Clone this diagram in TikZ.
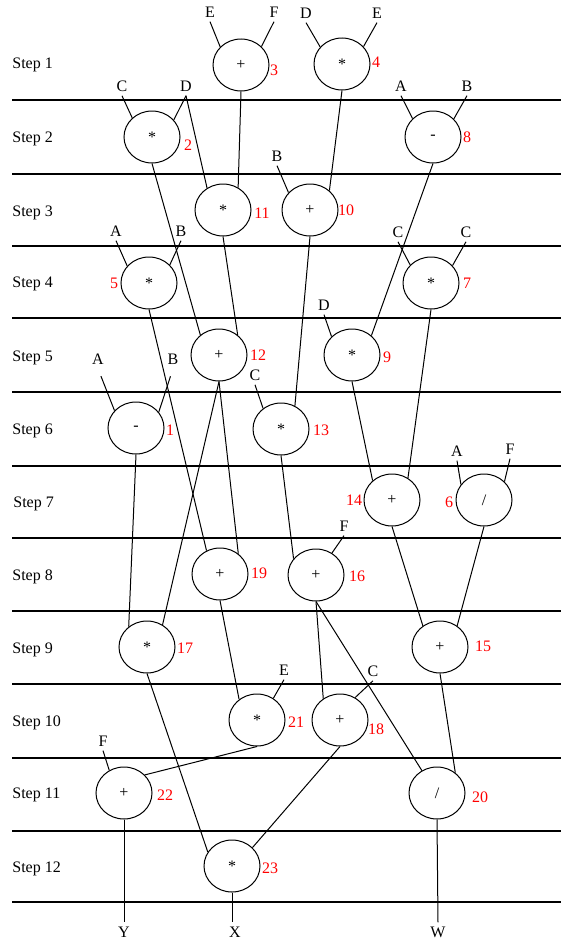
\documentclass[tikz,border=0pt]{standalone}
\usepackage{fontspec}
\setmainfont{Liberation Serif}
\usetikzlibrary{shapes.geometric}
\begin{document}
\begin{tikzpicture}[x=0.5pt,y=-0.5pt,
  every node/.style={font=\fontsize{8}{9.6}\selectfont},
  op/.style={draw, ellipse, minimum width=28pt, minimum height=26pt, inner sep=0pt, line width=0.5pt},
  num/.style={text=red, inner sep=0pt},
  inp/.style={inner sep=2pt},
  steplbl/.style={anchor=base west, inner sep=0pt},
  wire/.style={line width=0.5pt},
  rule/.style={line width=0.6pt}]
\useasboundingbox (0,0) rectangle (561,942);
% horizontal step separators
\foreach \yy in {100,174,246,318,392,466,538,611,684,758,831,902}
  \draw[rule] (12,\yy) -- (561,\yy);
% step labels
\node[steplbl] (s1) at (12,68) {Step 1};
\node[steplbl] (s2) at (12,142) {Step 2};
\node[steplbl] (s3) at (12,216) {Step 3};
\node[steplbl] (s4) at (12,287) {Step 4};
\node[steplbl] (s5) at (12,361) {Step 5};
\node[steplbl] (s6) at (12,434) {Step 6};
\node[steplbl] (s7) at (13,507) {Step 7};
\node[steplbl] (s8) at (12,580) {Step 8};
\node[steplbl] (s9) at (12,653) {Step 9};
\node[steplbl] (s10) at (12,726) {Step 10};
\node[steplbl] (s11) at (12,798) {Step 11};
\node[steplbl] (s12) at (12,872) {Step 12};
% operation nodes
\node[op] (n3) at (241,65) {+};
\node[op] (n4) at (342,64) {*};
\node[op] (n2) at (152,137) {*};
\node[op] (n8) at (433,137) {-};
\node[op] (n11) at (223,210) {*};
\node[op] (n10) at (310,210) {+};
\node[op] (n5) at (149,283) {*};
\node[op] (n7) at (431,283) {*};
\node[op] (n12) at (219,355) {+};
\node[op] (n9) at (352,355) {*};
\node[op] (n1) at (136,428) {-};
\node[op] (n13) at (281,429) {*};
\node[op] (n14) at (392,500) {+};
\node[op] (n6) at (484,500) {/};
\node[op] (n19) at (220,574) {+};
\node[op] (n16) at (316,575) {+};
\node[op] (n17) at (147,647) {*};
\node[op] (n15) at (440,647) {+};
\node[op] (n21) at (257,720) {*};
\node[op] (n18) at (340,720) {+};
\node[op] (n22) at (124,793) {+};
\node[op] (n20) at (437,793) {/};
\node[op] (n23) at (232,866) {*};
% red numbers
\node[num] (m3) at (274,70) {3};
\node[num] (m4) at (376,62) {4};
\node[num] (m2) at (188,145) {2};
\node[num] (m8) at (467,137) {8};
\node[num] (m11) at (262,213) {11};
\node[num] (m10) at (346,210) {10};
\node[num] (m5) at (114,283) {5};
\node[num] (m7) at (467,283) {7};
\node[num] (m12) at (258,355) {12};
\node[num] (m9) at (387,357) {9};
\node[num] (m1) at (170,430) {1};
\node[num] (m13) at (321,430) {13};
\node[num] (m14) at (354,500) {14};
\node[num] (m6) at (449,502) {6};
\node[num] (m19) at (259,573) {19};
\node[num] (m16) at (357,576) {16};
\node[num] (m17) at (185,648) {17};
\node[num] (m15) at (483,646) {15};
\node[num] (m21) at (296,722) {21};
\node[num] (m18) at (376,729) {18};
\node[num] (m22) at (165,795) {22};
\node[num] (m20) at (480,797) {20};
\node[num] (m23) at (270,868) {23};
% inputs
\node[inp] (iE3) at (210,12) {E};
\node[inp] (iF3) at (274,12) {F};
\node[inp] (iD4) at (306,13) {D};
\node[inp] (iE4) at (377,13) {E};
\node[inp] (iC2) at (122,86) {C};
\node[inp] (iD2) at (186,86) {D};
\node[inp] (iA8) at (401,86) {A};
\node[inp] (iB8) at (467,86) {B};
\node[inp] (iB10) at (277,156) {B};
\node[inp] (iA5) at (116,231) {A};
\node[inp] (iB5) at (181,231) {B};
\node[inp] (iC7a) at (398,232) {C};
\node[inp] (iC7b) at (466,232) {C};
\node[inp] (iD9) at (324,305) {D};
\node[inp] (iA1) at (98,359) {A};
\node[inp] (iB1) at (173,359) {B};
\node[inp] (iC13) at (255,375) {C};
\node[inp] (iA6) at (457,451) {A};
\node[inp] (iF6) at (510,449) {F};
\node[inp] (iF16) at (344,526) {F};
\node[inp] (iE21) at (284,670) {E};
\node[inp] (iC18) at (373,671) {C};
\node[inp] (iF22) at (103,741) {F};
% outputs
\node[inp] (oY) at (124,932) {Y};
\node[inp] (oX) at (235,932) {X};
\node[inp] (oW) at (438,932) {W};
% wires
\draw[wire] (iE3.south) -- (n3.139);
\draw[wire] (iF3.south) -- (n3.42);
\draw[wire] (iD4.south) -- (n4.142);
\draw[wire] (iE4.south) -- (n4.39);
\draw[wire] (iC2.south) -- (n2.136);
\draw[wire] (iD2.south) -- (n2.38);
\draw[wire] (iD2.south) -- (n11.126);
\draw[wire] (iA8.south) -- (n8.138);
\draw[wire] (iB8.south) -- (n8.41);
\draw[wire] (n3.south) -- (n11.56);
\draw[wire] (n4.south) -- (n10.45);
\draw[wire] (iB10.south) -- (n10.141);
\draw[wire] (iA5.south) -- (n5.142);
\draw[wire] (iB5.south) -- (n5.41);
\draw[wire] (iC7a.south) -- (n7.139);
\draw[wire] (iC7b.south) -- (n7.39);
\draw[wire] (n2.south) -- (n12.133);
\draw[wire] (n11.south) -- (n12.47);
\draw[wire] (n8.south) -- (n9.45);
\draw[wire] (iD9.south) -- (n9.138);
\draw[wire] (n10.south) -- (n13.59);
\draw[wire] (iC13.south) -- (n13.131);
\draw[wire, shorten <=4pt] (iA1.south) -- (n1.141);
\draw[wire, shorten <=4pt] (iB1.south) -- (n1.35);
\draw[wire] (n5.south) -- (n19.120);
\draw[wire] (n12.south) -- (n19.48);
\draw[wire] (n12.south) -- (n17.55);
\draw[wire] (n7.south) -- (n14.54);
\draw[wire] (n9.south) -- (n14.135);
\draw[wire] (iA6.south) -- (n6.146);
\draw[wire] (iF6.south) -- (n6.42);
\draw[wire] (n1.south) -- (n17.132);
\draw[wire] (n13.south) -- (n16.144);
\draw[wire] (iF16.south) -- (n16.54);
\draw[wire] (n14.south) -- (n15.129);
\draw[wire] (n6.south) -- (n15.51);
\draw[wire] (n19.south) -- (n21.131);
\draw[wire] (iE21.south) -- (n21.53);
\draw[wire] (n16.south) -- (n18.128);
\draw[wire] (iC18.south) -- (n18.56);
\draw[wire] (n16.south) -- (n20.124);
\draw[wire] (n15.south) -- (n20.48);
\draw[wire] (n21.south) -- (n22.41);
\draw[wire] (iF22.south) -- (n22.123);
\draw[wire] (n17.south) -- (n23.150);
\draw[wire] (n18.south) -- (n23.42);
\draw[wire] (n22.south) -- (oY.north);
\draw[wire] (n23.south) -- (n23.south |- oX.north);
\draw[wire] (n20.south) -- (oW.north);
\end{tikzpicture}
\end{document}
